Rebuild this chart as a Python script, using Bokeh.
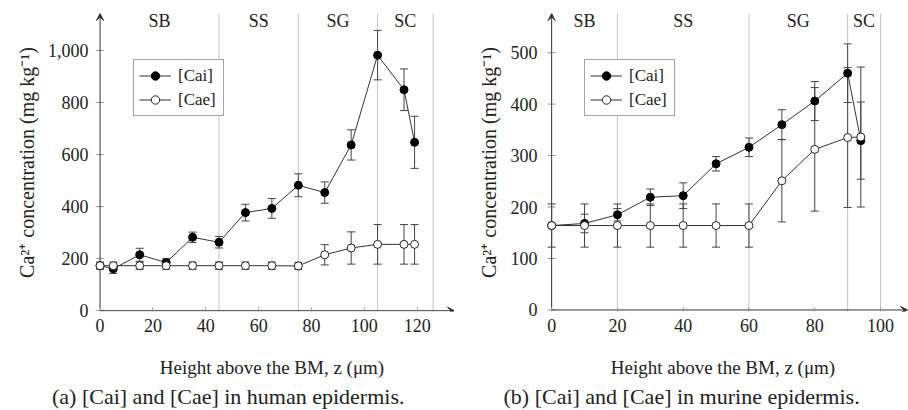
from bokeh.plotting import figure
from bokeh.models import (Range1d, FixedTicker, NumeralTickFormatter, Whisker, TeeHead,
                          Span, Arrow, VeeHead, Legend, LegendItem, Title, ColumnDataSource)
from bokeh.layouts import row
from bokeh.core.properties import value
from bokeh.embed import file_html
from bokeh.resources import INLINE

FONT = "'Liberation Serif'"
TXT = "#222222"

# ---------------- human epidermis (a) ----------------
z_h = [0, 5, 15, 25, 35, 45, 55, 65, 75, 85, 95, 105, 115, 119]
cai_h = [173, 161, 215, 185, 282, 263, 377, 393, 482, 454, 637, 982, 849, 647]
cai_h_err = [0, 18, 25, 15, 20, 22, 32, 38, 44, 41, 58, 95, 80, 100]
cae_h = [173, 173, 173, 173, 173, 173, 173, 173, 172, 215, 241, 255, 255, 255]
cae_h_err = [14, 14, 14, 14, 14, 14, 14, 14, 14, 39, 62, 76, 76, 76]
bounds_h = [0, 45, 75, 105, 126]
xticks_h = [0, 20, 40, 60, 80, 100, 120]
yticks_h = [0, 200, 400, 600, 800, 1000]

# ---------------- murine epidermis (b) ----------------
z_m = [0, 10, 20, 30, 40, 50, 60, 70, 80, 90, 94]
cai_m = [164, 168, 185, 219, 222, 284, 316, 360, 406, 460, 329]
cai_m_err = [0, 18, 12, 16, 25, 14, 18, 29, 38, 57, 75]
cae_m = [164, 164, 164, 164, 164, 164, 164, 251, 312, 335, 336]
cae_m_err = [42, 42, 42, 42, 42, 42, 42, 80, 120, 136, 136]
bounds_m = [0, 20, 60, 90, 100]
xticks_m = [0, 20, 40, 60, 80, 100]
yticks_m = [0, 100, 200, 300, 400, 500]

layers = ["SB", "SS", "SG", "SC"]
ytitle = "Ca²⁺ concentration (mg kg⁻¹)"
xtitle = "Height above the BM, z (μm)"
cap_h = "(a) [Cai] and [Cae] in human epidermis."
cap_m = "(b) [Cai] and [Cae] in murine epidermis."


def panel(z, cai, cai_err, cae, cae_err, bounds, xticks, yticks, xr, yr,
          border_left, border_right, caption, cap_off, ylab_standoff, leg_x):
    p = figure(width=454, height=410, x_range=Range1d(*xr), y_range=Range1d(*yr),
               output_backend="svg", toolbar_location=None,
               min_border_left=border_left, min_border_right=border_right,
               min_border_top=13, min_border_bottom=99)
    p.outline_line_color = None
    p.xgrid.visible = False
    p.ygrid.visible = False

    xa = p.xaxis[0]
    xa.ticker = FixedTicker(ticks=xticks)
    xa.axis_line_color = None
    xa.major_tick_in = 4
    xa.major_tick_out = 0
    xa.major_tick_line_color = "#999999"
    xa.minor_tick_line_color = None
    xa.major_label_standoff = 7
    xa.major_label_text_font = FONT
    xa.major_label_text_font_size = "18px"
    xa.major_label_text_color = TXT
    xa.axis_label = xtitle
    xa.axis_label_text_font = FONT
    xa.axis_label_text_font_size = "19px"
    xa.axis_label_text_font_style = "normal"
    xa.axis_label_text_color = TXT
    xa.axis_label_standoff = 22

    ya = p.yaxis[0]
    ya.ticker = FixedTicker(ticks=yticks)
    ya.formatter = NumeralTickFormatter(format="0,0")
    ya.axis_line_color = None
    ya.major_tick_line_color = None
    ya.major_tick_in = 0
    ya.major_tick_out = 0
    ya.minor_tick_line_color = None
    ya.major_label_standoff = 1
    ya.major_label_text_font = FONT
    ya.major_label_text_font_size = "18px"
    ya.major_label_text_color = TXT
    ya.axis_label = ytitle
    ya.axis_label_text_font = FONT
    ya.axis_label_text_font_size = "20px"
    ya.axis_label_text_font_style = "normal"
    ya.axis_label_text_color = TXT
    ya.axis_label_standoff = ylab_standoff

    for b in bounds[1:]:
        p.add_layout(Span(location=b, dimension="height", line_color="#c4c4c4",
                          line_width=1, level="underlay"))

    p.add_layout(Arrow(x_start=0, y_start=0, x_end=0, y_end=yr[1], line_color="#333333",
                       line_width=1, level="underlay",
                       end=VeeHead(size=7, fill_color="#333333", line_color="#333333")))
    p.add_layout(Arrow(x_start=0, y_start=0, x_end=xr[1], y_end=0, line_color="#333333",
                       line_width=1, level="underlay",
                       end=VeeHead(size=7, fill_color="#333333", line_color="#333333")))
    p.scatter(x=[0] * len(yticks), y=yticks, marker="dash", size=8,
              line_color="#999999", line_width=1, level="underlay")

    centers = [(a + b) / 2 for a, b in zip(bounds[:-1], bounds[1:])]
    p.text(x=centers, y=[yr[1]] * len(centers), text=layers, text_align="center",
           text_baseline="top", y_offset=-3, text_font=value(FONT),
           text_font_size="18px", text_color=TXT)

    for vals, errs in ((cai, cai_err), (cae, cae_err)):
        src = ColumnDataSource(dict(z=z, up=[v + e for v, e in zip(vals, errs)],
                                    lo=[v - e for v, e in zip(vals, errs)]))
        w = Whisker(source=src, base="z", upper="up", lower="lo", dimension="height",
                    line_color="#444444", line_width=1, level="underlay",
                    upper_head=TeeHead(size=8, line_color="#444444", line_width=1),
                    lower_head=TeeHead(size=8, line_color="#444444", line_width=1))
        p.add_layout(w)

    l1 = p.line(z, cai, line_color="#333333", line_width=1)
    m1 = p.scatter(z, cai, size=8, fill_color="black", line_color="black")
    l2 = p.line(z, cae, line_color="#333333", line_width=1)
    m2 = p.scatter(z, cae, size=8, fill_color="white", line_color="#222222", line_width=1)

    leg = Legend(items=[LegendItem(label="[Cai]", renderers=[l1, m1]),
                        LegendItem(label="[Cae]", renderers=[l2, m2])],
                 location=(leg_x, 195), label_text_font=FONT, label_text_font_size="17px",
                 label_text_color=TXT, glyph_width=32, glyph_height=21, label_height=21,
                 label_standoff=7, label_width=40, spacing=3, padding=5, margin=0,
                 border_line_color="#444444", border_line_width=1,
                 background_fill_color="white", background_fill_alpha=1)
    p.add_layout(leg)

    t2 = Title(text=caption, align="left", offset=cap_off, text_font=FONT,
               text_font_size="22px", text_font_style="normal", text_color=TXT, standoff=2)
    p.add_layout(t2, "below")
    return p


pa = panel(z_h, cai_h, cai_h_err, cae_h, cae_h_err, bounds_h, xticks_h, yticks_h,
           (-4, 134.1), (-3, 1142), 89, 0, cap_h, -37.5, 7, 44)
pb = panel(z_m, cai_m, cai_m_err, cae_m, cae_m_err, bounds_m, xticks_m, yticks_m,
           (-4, 108.2), (-3, 576), 84, 1, cap_m, -35, 8, 46)

layout = row(pa, pb)
open("out.html", "w").write(file_html(layout, INLINE))
